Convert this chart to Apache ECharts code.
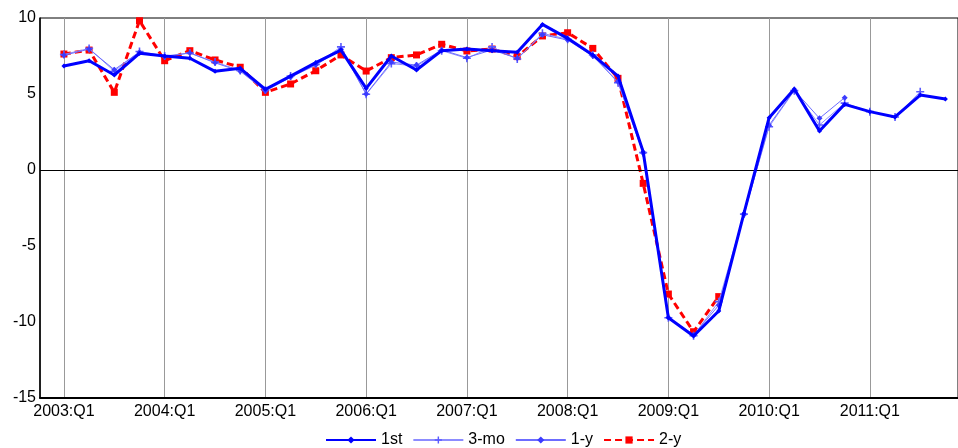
<!DOCTYPE html>
<html>
<head>
<meta charset="utf-8">
<script src="https://cdn.jsdelivr.net/npm/echarts@6/dist/echarts.min.js"></script>
<style>
  html, body { margin: 0; padding: 0; background: #fff; }
  #chart { width: 958px; height: 448px; }
</style>
</head>
<body>
<div id="chart"></div>
<script>
// quarters 2003:Q1 .. 2011:Q4
const categories = []
for (let y = 2003; y <= 2011; y++) {
  for (let q = 1; q <= 4; q++) categories.push(y + ':Q' + q)
}
const labelQuarters = [0, 4, 8, 12, 16, 20, 24, 28, 32]

// 1st release
const first = [6.84, 7.19, 6.25, 7.68, 7.5, 7.35, 6.49, 6.69, 5.31, 6.18, 7.06, 7.89,
  5.37, 7.5, 6.58, 7.85, 7.96, 7.85, 7.74, 9.58, 8.66, 7.57, 6.18, 1.2,
  -9.72, -10.92, -9.28, -2.85, 3.44, 5.33, 2.57, 4.32, 3.84, 3.49, 4.93, 4.67]
// 3 months later
const threeMo = [7.6, 8.0, 6.5, 7.8, 7.5, 7.7, 7.1, 6.55, 5.26, 6.18, 6.95, 8.1,
  4.98, 7.0, 6.84, 7.85, 7.35, 8.1, 7.3, 8.99, 8.6, 7.57, 5.74, 1.14,
  -9.72, -10.9, -8.66, -2.9, 2.85, 5.22, 2.96, 4.4, 3.84, 3.49, 5.15]
// 1 year later
const oneY = [7.55, 7.95, 6.6, 7.75, 7.45, 7.7, 7.05, 6.5, 5.2, 6.1, 6.9, 7.95,
  5.0, 7.1, 6.9, 7.9, 7.4, 7.9, 7.35, 8.9, 8.55, 7.5, 5.8, 1.1,
  -9.7, -10.85, -8.9, -2.95, 2.95, 5.25, 3.4, 4.76]
// 2 years later
const twoY = [7.63, 7.89, 5.11, 9.82, 7.19, 7.85, 7.24, 6.76, 5.11, 5.66, 6.53, 7.57,
  6.51, 7.39, 7.57, 8.27, 7.83, 7.96, 7.46, 8.82, 9.03, 8.0, 6.03, -0.88,
  -8.16, -10.64, -8.33]

const font = "'Liberation Sans', Arial, sans-serif"
const plus = 'path://M4,0H6V4H10V6H6V10H4V6H0V4H4Z'

function pairs(arr) {
  return arr.map((v, i) => [i, v])
}

const chart = echarts.init(document.getElementById('chart'))
chart.setOption({
  animation: false,
  textStyle: { fontFamily: font },
  grid: {
    left: 40, right: 0, top: 18, bottom: 50,
    show: true, borderColor: '#000', borderWidth: 1
  },
  legend: {
    left: 320, top: 427,
    itemWidth: 50, itemHeight: 9, itemGap: 10,
    textStyle: { fontSize: 16, color: '#000', fontFamily: font },
    data: ['1st', '3-mo', '1-y', '2-y']
  },
  xAxis: {
    type: 'value',
    min: -0.95,
    max: 35.5,
    axisLine: { show: true, onZero: false, lineStyle: { color: '#000', width: 2 } },
    axisTick: { show: false, customValues: labelQuarters },
    axisLabel: {
      customValues: labelQuarters,
      fontSize: 16, color: '#000', margin: 6, fontFamily: font,
      formatter: v => categories[Math.round(v)]
    },
    splitLine: { show: true, lineStyle: { color: '#999', width: 1 } }
  },
  yAxis: {
    type: 'value',
    min: -15, max: 10, interval: 5,
    axisLine: { show: true, onZero: false, lineStyle: { color: '#000', width: 1.5 } },
    axisTick: { show: false },
    axisLabel: { fontSize: 16, color: '#000', margin: 4, fontFamily: font },
    splitLine: { show: false }
  },
  series: [
    {
      name: '1st', type: 'line', data: pairs(first), z: 5,
      symbol: 'diamond', symbolSize: 5,
      itemStyle: { color: '#0000ff' },
      lineStyle: { color: '#0000ff', width: 3 },
      markLine: {
        silent: true, symbol: 'none', label: { show: false },
        lineStyle: { color: '#000', width: 1, type: 'solid' },
        data: [{ yAxis: 0 }]
      }
    },
    {
      name: '3-mo', type: 'line', data: pairs(threeMo), z: 3,
      symbol: plus, symbolSize: 8,
      itemStyle: { color: '#5a5aff' },
      lineStyle: { color: '#8c8cff', width: 1 }
    },
    {
      name: '1-y', type: 'line', data: pairs(oneY), z: 4,
      symbol: 'diamond', symbolSize: 6,
      itemStyle: { color: '#3c3cff' },
      lineStyle: { color: '#6c6cff', width: 1 }
    },
    {
      name: '2-y', type: 'line', data: pairs(twoY), z: 2,
      symbol: 'rect', symbolSize: 7,
      itemStyle: { color: '#ff0000' },
      lineStyle: { color: '#ff0000', width: 3, type: [7, 4] }
    }
  ]
})
</script>
</body>
</html>
